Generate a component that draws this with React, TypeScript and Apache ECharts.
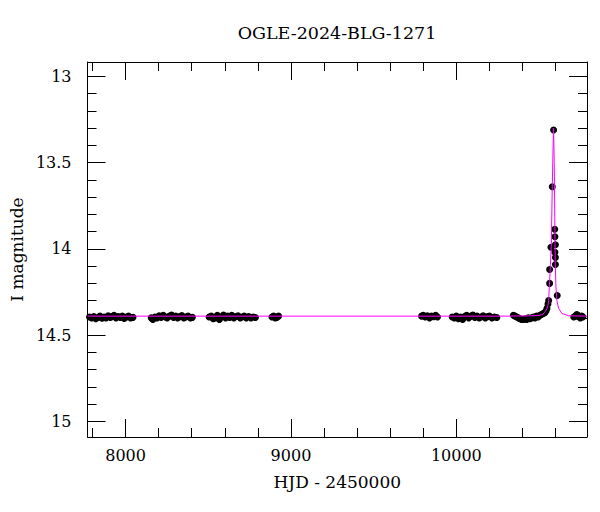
import React, { useEffect, useRef } from "react";
import * as echarts from "echarts";

const TITLE = "OGLE-2024-BLG-1271";
const X_NAME = "HJD - 2450000";
const Y_NAME = "I magnitude";

const X_MIN = 7770;
const X_MAX = 10790;
const Y_MIN = 12.916;
const Y_MAX = 15.091;

const xMajorTicks = [8000, 9000, 10000];
const xMajorLabels = ["8000", "9000", "10000"];
const xMinorTicks = [7800, 8200, 8400, 8600, 8800, 9200, 9400, 9600, 9800, 10200, 10400, 10600];
const yMajorTicks = [13, 13.5, 14, 14.5, 15];
const yMajorLabels = ["13", "13.5", "14", "14.5", "15"];
const yMinorTicks = [13.1, 13.2, 13.3, 13.4, 13.6, 13.7, 13.8, 13.9, 14.1, 14.2, 14.3, 14.4, 14.6, 14.7, 14.8, 14.9];

// OGLE photometry, season by season [HJD-2450000, I mag]
const season2017: number[][] = [
  [7782, 14.395], [7795, 14.4], [7808, 14.392], [7820, 14.405], [7833, 14.398], [7845, 14.39],
  [7858, 14.402], [7870, 14.395], [7882, 14.4], [7895, 14.388], [7907, 14.397], [7918, 14.393],
  [7930, 14.385], [7942, 14.4], [7955, 14.392], [7968, 14.398], [7980, 14.39], [7992, 14.403],
  [8005, 14.395], [8018, 14.39], [8030, 14.4], [8045, 14.397],
];
const season2018: number[][] = [
  [8155, 14.4], [8165, 14.41], [8178, 14.395], [8190, 14.4], [8203, 14.388], [8215, 14.398],
  [8228, 14.385], [8240, 14.395], [8252, 14.4], [8265, 14.39], [8278, 14.383], [8290, 14.397],
  [8303, 14.39], [8315, 14.4], [8328, 14.393], [8340, 14.387], [8352, 14.4], [8365, 14.395],
  [8378, 14.39], [8392, 14.4], [8404, 14.397],
];
const season2019: number[][] = [
  [8505, 14.395], [8518, 14.39], [8530, 14.405], [8542, 14.4], [8555, 14.385], [8567, 14.41],
  [8580, 14.395], [8592, 14.383], [8605, 14.4], [8617, 14.39], [8630, 14.398], [8642, 14.385],
  [8655, 14.4], [8668, 14.392], [8680, 14.388], [8693, 14.4], [8705, 14.395], [8718, 14.39],
  [8730, 14.4], [8745, 14.392], [8758, 14.4], [8772, 14.395], [8785, 14.398],
];
const season2020: number[][] = [
  [8885, 14.395], [8895, 14.39], [8905, 14.4], [8915, 14.397], [8925, 14.39],
];
const season2022: number[][] = [
  [9790, 14.39], [9800, 14.385], [9812, 14.395], [9825, 14.388], [9838, 14.4], [9850, 14.39],
  [9862, 14.393], [9875, 14.385], [9886, 14.395],
];
const season2023: number[][] = [
  [9975, 14.395], [9988, 14.4], [10000, 14.39], [10012, 14.405], [10025, 14.395], [10038, 14.41],
  [10050, 14.393], [10062, 14.385], [10075, 14.4], [10088, 14.39], [10100, 14.383], [10112, 14.398],
  [10125, 14.39], [10138, 14.4], [10150, 14.395], [10162, 14.388], [10175, 14.4], [10188, 14.393],
  [10200, 14.39], [10215, 14.4], [10230, 14.395], [10245, 14.398],
];
const season2024: number[][] = [
  [10345, 14.385], [10355, 14.39], [10365, 14.395], [10375, 14.4], [10385, 14.405], [10395, 14.41],
  [10405, 14.41], [10415, 14.405], [10425, 14.41], [10435, 14.4], [10445, 14.405], [10455, 14.4],
  [10465, 14.395], [10475, 14.4], [10485, 14.39], [10495, 14.395], [10505, 14.385], [10515, 14.38],
  [10525, 14.375], [10535, 14.37], [10542, 14.36],
  [10548, 14.345], [10554, 14.32], [10558, 14.3], [10564, 14.2], [10564, 14.12], [10572, 13.99],
  [10580, 13.64], [10588, 13.31], [10595, 13.886], [10596, 13.93], [10599, 13.976], [10596, 14.02],
  [10599, 14.05], [10599, 14.09], [10610, 14.27],
];
const season2025: number[][] = [
  [10710, 14.395], [10720, 14.39], [10728, 14.38], [10735, 14.385], [10742, 14.395], [10750, 14.4],
  [10758, 14.39], [10765, 14.395],
];

// Microlensing model curve as drawn [HJD-2450000, I mag]
const modelCurve: number[][] = [
  [7770, 14.39], [10300, 14.39], [10450, 14.388], [10500, 14.386], [10520, 14.38], [10538, 14.364],
  [10548, 14.345], [10554, 14.326], [10558, 14.3], [10564, 14.19], [10569, 14.09], [10574, 13.987],
  [10580, 13.64], [10584, 13.445], [10588, 13.3], [10592, 13.5], [10594, 13.7], [10596, 13.89],
  [10598, 14.08], [10602, 14.22], [10608, 14.3], [10618, 14.345], [10638, 14.374], [10679, 14.388],
  [10790, 14.39],
];

const FONT = "DejaVu Serif";

function labelFor(ticks: number[], labels: string[]) {
  return (v: number) => {
    const i = ticks.findIndex((t) => Math.abs(t - v) < 1e-6);
    return i >= 0 ? labels[i] : "";
  };
}

export default function App() {
  const ref = useRef<HTMLDivElement>(null);
  useEffect(() => {
    if (!ref.current) return;
    const chart = echarts.init(ref.current, null, { renderer: "svg" });
    const lineStyle = { color: "#000", width: 1 };
    const xBase = {
      type: "value" as const,
      min: X_MIN,
      max: X_MAX,
      gridIndex: 0,
      splitLine: { show: false },
    };
    const yBase = {
      type: "value" as const,
      min: Y_MIN,
      max: Y_MAX,
      inverse: true,
      gridIndex: 0,
      splitLine: { show: false },
    };
    const observed = [
      ...season2017, ...season2018, ...season2019, ...season2020,
      ...season2022, ...season2023, ...season2024, ...season2025,
    ];
    chart.setOption({
      animation: false,
      backgroundColor: "#fff",
      title: {
        text: TITLE,
        left: 337,
        top: 24,
        padding: 0,
        textAlign: "center",
        textStyle: { fontFamily: FONT, fontSize: 17.5, fontWeight: "normal", color: "#000" },
      },
      grid: { left: 87, right: 13, top: 62, bottom: 75 },
      xAxis: [
        {
          ...xBase,
          position: "bottom",
          name: X_NAME,
          nameLocation: "middle",
          nameGap: 36,
          nameTextStyle: { fontFamily: FONT, fontSize: 17, color: "#000" },
          axisLine: { show: true, lineStyle },
          axisTick: { show: true, inside: true, length: 18, customValues: xMajorTicks, lineStyle },
          axisLabel: {
            show: true, customValues: xMajorTicks, margin: 10,
            fontFamily: FONT, fontSize: 16, color: "#000",
            formatter: labelFor(xMajorTicks, xMajorLabels),
          },
        },
        {
          ...xBase,
          position: "bottom",
          axisLine: { show: false },
          axisTick: { show: true, inside: true, length: 9, customValues: xMinorTicks, lineStyle },
          axisLabel: { show: false },
        },
        {
          ...xBase,
          position: "top",
          axisLine: { show: true, lineStyle },
          axisTick: { show: true, inside: true, length: 18, customValues: xMajorTicks, lineStyle },
          axisLabel: { show: false },
        },
        {
          ...xBase,
          position: "top",
          axisLine: { show: false },
          axisTick: { show: true, inside: true, length: 9, customValues: xMinorTicks, lineStyle },
          axisLabel: { show: false },
        },
      ],
      yAxis: [
        {
          ...yBase,
          position: "left",
          name: Y_NAME,
          nameLocation: "middle",
          nameGap: 54,
          nameTextStyle: { fontFamily: FONT, fontSize: 17, color: "#000" },
          axisLine: { show: true, lineStyle },
          axisTick: { show: true, inside: true, length: 18, customValues: yMajorTicks, lineStyle },
          axisLabel: {
            show: true, customValues: yMajorTicks, margin: 16,
            fontFamily: FONT, fontSize: 16, color: "#000",
            formatter: labelFor(yMajorTicks, yMajorLabels),
          },
        },
        {
          ...yBase,
          position: "left",
          axisLine: { show: false },
          axisTick: { show: true, inside: true, length: 9, customValues: yMinorTicks, lineStyle },
          axisLabel: { show: false },
        },
        {
          ...yBase,
          position: "right",
          axisLine: { show: true, lineStyle },
          axisTick: { show: true, inside: true, length: 18, customValues: yMajorTicks, lineStyle },
          axisLabel: { show: false },
        },
        {
          ...yBase,
          position: "right",
          axisLine: { show: false },
          axisTick: { show: true, inside: true, length: 9, customValues: yMinorTicks, lineStyle },
          axisLabel: { show: false },
        },
      ],
      series: [
        {
          type: "scatter",
          xAxisIndex: 0,
          yAxisIndex: 0,
          data: observed,
          symbol: "circle",
          symbolSize: 7,
          itemStyle: { color: "#000", opacity: 1 },
          z: 2,
        },
        {
          type: "line",
          xAxisIndex: 0,
          yAxisIndex: 0,
          data: modelCurve,
          showSymbol: false,
          symbol: "none",
          lineStyle: { color: "#ff00ff", width: 1 },
          z: 3,
        },
      ],
    });
    return () => chart.dispose();
  }, []);
  return (
    <div
      ref={ref}
      style={{ position: "fixed", left: 0, top: 0, width: 600, height: 512, background: "#fff" }}
    />
  );
}
